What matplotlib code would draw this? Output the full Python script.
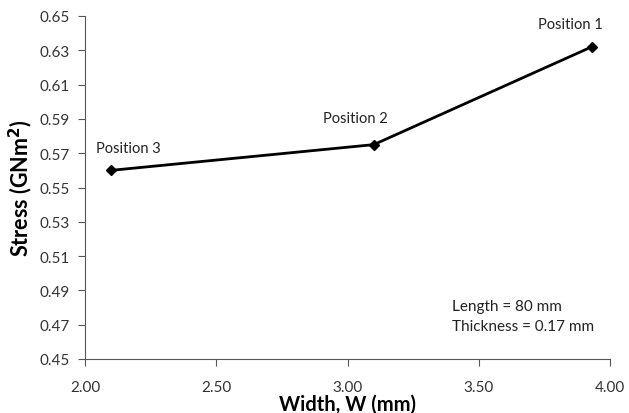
import matplotlib
matplotlib.use("Agg")
import matplotlib.pyplot as plt
import numpy as np

widths = [3.93, 3.10, 2.10]
stress = [0.632, 0.575, 0.560]
labels = ["Position 1", "Position 2", "Position 3"]
x_ticks = [2.0, 2.5, 3.0, 3.5, 4.0]
y_ticks = [0.45, 0.47, 0.49, 0.51, 0.53, 0.55, 0.57, 0.59, 0.61, 0.63, 0.65]

plt.rcParams['font.family'] = ['Lato', 'DejaVu Sans']

fig = plt.figure(figsize=(6.29, 4.14), dpi=100)
ax = fig.add_axes([85/629, 1 - 360/414, (610-85)/629, (360-17)/414])

ax.plot(widths, stress, color='black', lw=2, marker='D', ms=5)

offsets = [(-15, 16.5), (-13, 19.5), (12, 16)]
for x, y, t, off in zip(widths, stress, labels, offsets):
    ax.annotate(t, (x, y), xytext=off, textcoords='offset points',
                ha='center', va='center', fontsize=10.5, color='#222222')

ax.set_xlim(2.0, 4.0)
ax.set_ylim(0.45, 0.65)
ax.set_xticks(x_ticks)
ax.set_yticks(y_ticks)
ax.set_xticklabels([f"{v:.2f}" for v in x_ticks], fontsize=11, color='#333333')
ax.set_yticklabels([f"{v:.2f}" for v in y_ticks], fontsize=11, color='#333333')
ax.tick_params(direction='out', length=5, color='#555555', pad=6)
ax.tick_params(axis='x', pad=10)
for s in ['top', 'right']:
    ax.spines[s].set_visible(False)
for s in ['left', 'bottom']:
    ax.spines[s].set_color('#555555')

ax.set_xlabel("Width, W (mm)", fontsize=14.5, fontweight='bold', labelpad=0)
ax.set_ylabel("Stress (GNm$^\\mathbf{2}$)", fontsize=15.5, fontweight='bold', labelpad=3)

ax.text(0.70, 0.124, "Length = 80 mm\nThickness = 0.17 mm", transform=ax.transAxes,
        fontsize=11, color='#222222', va='center', ha='left', linespacing=1.55)

fig.savefig("out.png", dpi=100)
